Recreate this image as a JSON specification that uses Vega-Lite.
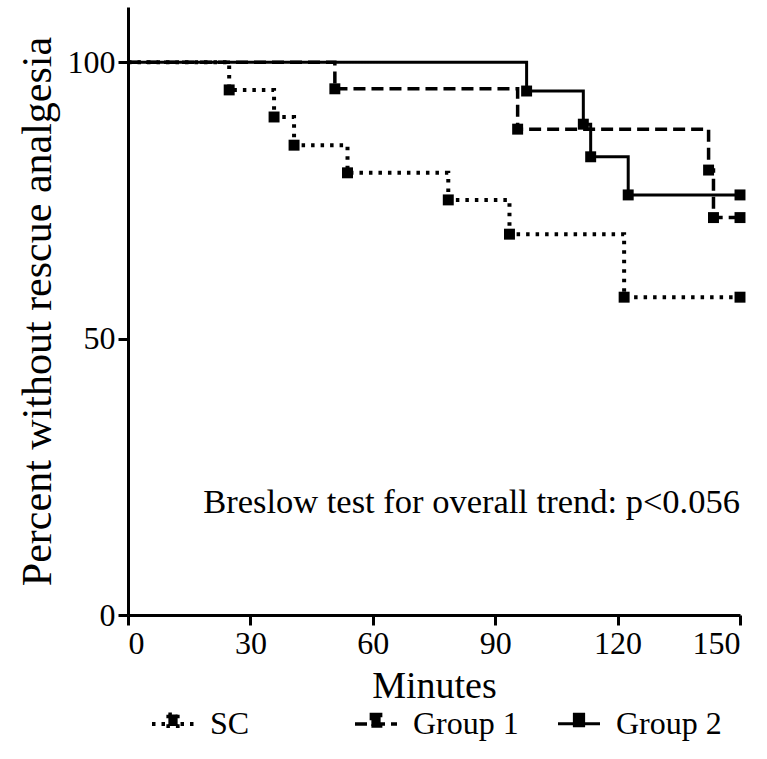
{
  "$schema": "https://vega.github.io/schema/vega-lite/v6.json",
  "width": 612,
  "height": 608,
  "autosize": {"type": "none"},
  "padding": {"left": 128, "top": 7, "right": 27, "bottom": 144},
  "background": "white",
  "config": {
    "view": {"stroke": null},
    "font": "Liberation Serif",
    "axis": {
      "grid": false,
      "domainColor": "black",
      "domainWidth": 3,
      "tickColor": "black",
      "tickWidth": 3,
      "tickSize": 10,
      "labelFont": "Liberation Serif",
      "labelFontSize": 32,
      "labelColor": "black",
      "titleFont": "Liberation Serif",
      "titleColor": "black",
      "titleFontWeight": "normal"
    },
    "legend": {
      "labelFont": "Liberation Serif",
      "labelFontSize": 32,
      "labelColor": "black"
    }
  },
  "data": {
    "values": [
      {"group": "SC", "t": 0, "s": 100},
      {"group": "SC", "t": 24.8, "s": 95.0},
      {"group": "SC", "t": 35.8, "s": 90.1},
      {"group": "SC", "t": 40.7, "s": 85.0},
      {"group": "SC", "t": 53.8, "s": 80.0},
      {"group": "SC", "t": 78.5, "s": 75.1},
      {"group": "SC", "t": 93.5, "s": 68.9},
      {"group": "SC", "t": 121.6, "s": 57.5},
      {"group": "SC", "t": 150, "s": 57.5},
      {"group": "Group 1", "t": 0, "s": 100},
      {"group": "Group 1", "t": 50.7, "s": 95.2},
      {"group": "Group 1", "t": 95.5, "s": 87.9},
      {"group": "Group 1", "t": 142.3, "s": 80.5},
      {"group": "Group 1", "t": 143.5, "s": 71.9},
      {"group": "Group 1", "t": 150, "s": 71.9},
      {"group": "Group 2", "t": 0, "s": 100},
      {"group": "Group 2", "t": 97.7, "s": 94.8},
      {"group": "Group 2", "t": 111.6, "s": 88.8},
      {"group": "Group 2", "t": 113.4, "s": 82.9},
      {"group": "Group 2", "t": 122.6, "s": 76.0},
      {"group": "Group 2", "t": 150, "s": 76.0}
    ]
  },
  "layer": [
    {
      "mark": {"type": "line", "interpolate": "step-after", "color": "black"},
      "encoding": {
        "x": {
          "field": "t", "type": "quantitative",
          "scale": {"domain": [0, 150], "nice": false},
          "axis": {"values": [0, 30, 60, 90, 120, 150], "title": "Minutes", "titleFontSize": 38, "titlePadding": 8, "labelPadding": 3}
        },
        "y": {
          "field": "s", "type": "quantitative",
          "scale": {"domain": [0, 110], "nice": false},
          "axis": {"values": [0, 50, 100], "title": "Percent without rescue analgesia", "titleFontSize": 42, "titlePadding": 8, "labelPadding": 3}
        },
        "strokeWidth": {
          "field": "group", "type": "nominal",
          "scale": {"domain": ["SC", "Group 1", "Group 2"], "range": [4, 3, 3]},
          "legend": null
        },
        "strokeDash": {
          "field": "group", "type": "nominal",
          "scale": {"domain": ["SC", "Group 1", "Group 2"], "range": [[3.5, 6], [12, 6], [1, 0]]},
          "legend": {
            "title": null,
            "orient": "none",
            "legendX": 22,
            "legendY": 694,
            "direction": "horizontal",
            "columns": 3,
            "gridAlign": "all",
            "columnPadding": 32,
            "symbolType": "M-1,0H1M-0.22,-0.45H0.22V0.1H-0.22Z",
            "symbolSize": 1764,
            "symbolStrokeWidth": 3,
            "symbolStrokeColor": "black",
            "symbolFillColor": "black",
            "labelOffset": 14
          }
        }
      }
    },
    {
      "transform": [{"filter": "datum.t > 0"}],
      "mark": {"type": "point", "shape": "square", "filled": true, "fill": "black", "stroke": null, "opacity": 1, "size": 120},
      "encoding": {
        "x": {"field": "t", "type": "quantitative"},
        "y": {"field": "s", "type": "quantitative"},
        "detail": {"field": "group", "type": "nominal"}
      }
    },
    {
      "data": {"values": [{"label": "Breslow test for overall trend: p<0.056"}]},
      "mark": {"type": "text", "align": "right", "baseline": "middle", "fontSize": 34.5, "font": "Liberation Serif", "fontWeight": "normal", "fill": "black"},
      "encoding": {
        "text": {"field": "label", "type": "nominal"},
        "x": {"datum": 150},
        "y": {"datum": 20.3}
      }
    }
  ]
}
